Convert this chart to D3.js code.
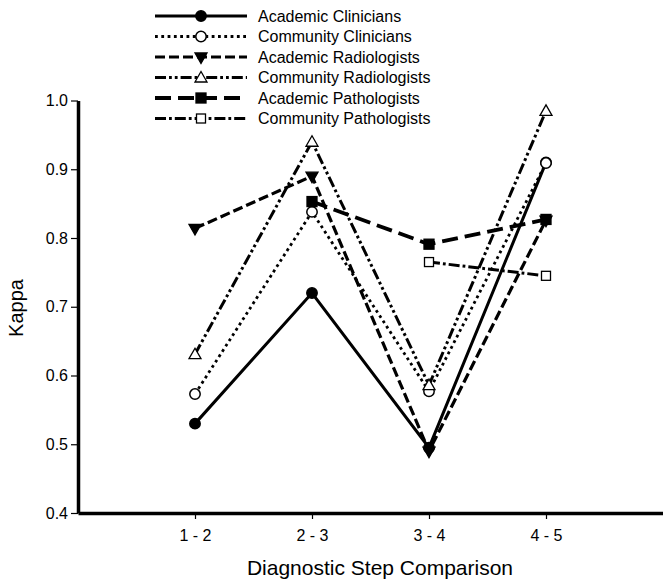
<!DOCTYPE html>
<html>
<head>
<meta charset="utf-8">
<script src="https://cdn.jsdelivr.net/npm/d3@7"></script>
<style>
    body { margin: 0; background: #fff; }
    svg { display: block; font-family: "Liberation Sans", Arial, sans-serif; }
</style>
</head>
<body>
<svg id="chart" width="663" height="580"></svg>
<script>
const comparisons = ["1 - 2", "2 - 3", "3 - 4", "4 - 5"];
const yTicks = [0.4, 0.5, 0.6, 0.7, 0.8, 0.9, 1.0];

const academicClinicians = [0.53, 0.72, 0.495, 0.91];
const communityClinicians = [0.573, 0.838, 0.577, 0.909];
const academicRadiologists = [0.814, 0.89, 0.49, 0.826];
const communityRadiologists = [0.631, 0.94, 0.586, 0.985];
const academicPathologists = [null, 0.853, 0.791, 0.827];
const communityPathologists = [null, null, 0.765, 0.745];

const seriesNames = [
    "Academic Clinicians",
    "Community Clinicians",
    "Academic Radiologists",
    "Community Radiologists",
    "Academic Pathologists",
    "Community Pathologists"
];
const seriesValues = [
    academicClinicians,
    communityClinicians,
    academicRadiologists,
    communityRadiologists,
    academicPathologists,
    communityPathologists
];

// line / marker styles per series
const styles = [
    { dash: null, width: 3, marker: "circle", fill: "#000" },
    { dash: "2.8,3.5", width: 2.8, marker: "circle", fill: "#fff" },
    { dash: "10,4", width: 3.2, marker: "triangleDown", fill: "#000" },
    { dash: "11,3,2.8,3,2.8,3", width: 3, marker: "triangleUp", fill: "#fff" },
    { dash: "16,7", width: 3.8, marker: "square", fill: "#000" },
    { dash: "11,3,2.8,3", width: 3, marker: "square", fill: "#fff" }
];

const svg = d3.select("#chart");

const xScale = d3.scaleLinear().domain([0, 5]).range([78, 663]);
const yScale = d3.scaleLinear().domain([0.4, 1.0]).range([513, 100.5]);

// y axis
const yAxis = svg.append("g")
    .attr("transform", "translate(78,0)")
    .call(d3.axisLeft(yScale).tickValues(yTicks).tickFormat(d3.format(".1f")).tickSize(7).tickSizeOuter(0).tickPadding(3));
yAxis.select(".domain").attr("stroke-width", 3.5);
yAxis.selectAll(".tick line").attr("stroke-width", 1.2);
yAxis.selectAll(".tick text").attr("font-size", 16).attr("fill", "#000");

// x axis
const xAxis = svg.append("g")
    .attr("transform", "translate(0,513)")
    .call(d3.axisBottom(xScale).tickValues([1, 2, 3, 4]).tickFormat(function (d) { return comparisons[d - 1]; }).tickSize(6).tickSizeOuter(0).tickPadding(11));
xAxis.select(".domain").attr("stroke-width", 3.5);
xAxis.selectAll(".tick line").attr("stroke-width", 1.2);
xAxis.selectAll(".tick text").attr("font-size", 16).attr("fill", "#000");

// axis titles
svg.append("text")
    .attr("x", 380).attr("y", 575)
    .attr("text-anchor", "middle")
    .attr("font-size", 21)
    .text("Diagnostic Step Comparison");

svg.append("text")
    .attr("transform", "translate(23,308) rotate(-90)")
    .attr("text-anchor", "middle")
    .attr("font-size", 20)
    .text("Kappa");

function drawMarker(g, type, fill, x, y) {
    if (type === "circle") {
        g.append("circle").attr("cx", x).attr("cy", y).attr("r", 5.2)
            .attr("fill", fill).attr("stroke", "#000").attr("stroke-width", 1.5);
    } else if (type === "square") {
        const s = fill === "#000" ? 10 : 9;
        g.append("rect").attr("x", x - s / 2).attr("y", y - s / 2).attr("width", s).attr("height", s)
            .attr("fill", fill).attr("stroke", "#000").attr("stroke-width", 1.3);
    } else if (type === "triangleDown") {
        g.append("path").attr("d", `M${x - 6},${y - 4}L${x + 6},${y - 4}L${x},${y + 6.5}Z`)
            .attr("fill", fill).attr("stroke", "#000").attr("stroke-width", 1.3);
    } else if (type === "triangleUp") {
        g.append("path").attr("d", `M${x - 6},${y + 4.5}L${x + 6},${y + 4.5}L${x},${y - 6}Z`)
            .attr("fill", fill).attr("stroke", "#000").attr("stroke-width", 1.3);
    }
}

const line = d3.line()
    .defined(function (d) { return d.v !== null; })
    .x(function (d) { return xScale(d.i + 1); })
    .y(function (d) { return yScale(d.v); });

const plot = svg.append("g");
seriesValues.forEach(function (values, k) {
    const st = styles[k];
    const pts = values.map(function (v, i) { return { i: i, v: v }; });
    plot.append("path")
        .datum(pts)
        .attr("d", line)
        .attr("fill", "none")
        .attr("stroke", "#000")
        .attr("stroke-width", st.width)
        .attr("stroke-dasharray", st.dash);
});
seriesValues.forEach(function (values, k) {
    const st = styles[k];
    values.forEach(function (v, i) {
        if (v !== null) drawMarker(plot, st.marker, st.fill, xScale(i + 1), yScale(v));
    });
});

// legend
const legend = svg.append("g");
seriesNames.forEach(function (name, k) {
    const st = styles[k];
    const y = 16 + k * 20.5;
    legend.append("line")
        .attr("x1", 155).attr("x2", 247).attr("y1", y).attr("y2", y)
        .attr("stroke", "#000")
        .attr("stroke-width", st.width)
        .attr("stroke-dasharray", st.dash);
    drawMarker(legend, st.marker, st.fill, 201, y);
    legend.append("text")
        .attr("x", 258).attr("y", y + 5.5)
        .attr("font-size", 16)
        .text(name);
});
</script>
</body>
</html>
